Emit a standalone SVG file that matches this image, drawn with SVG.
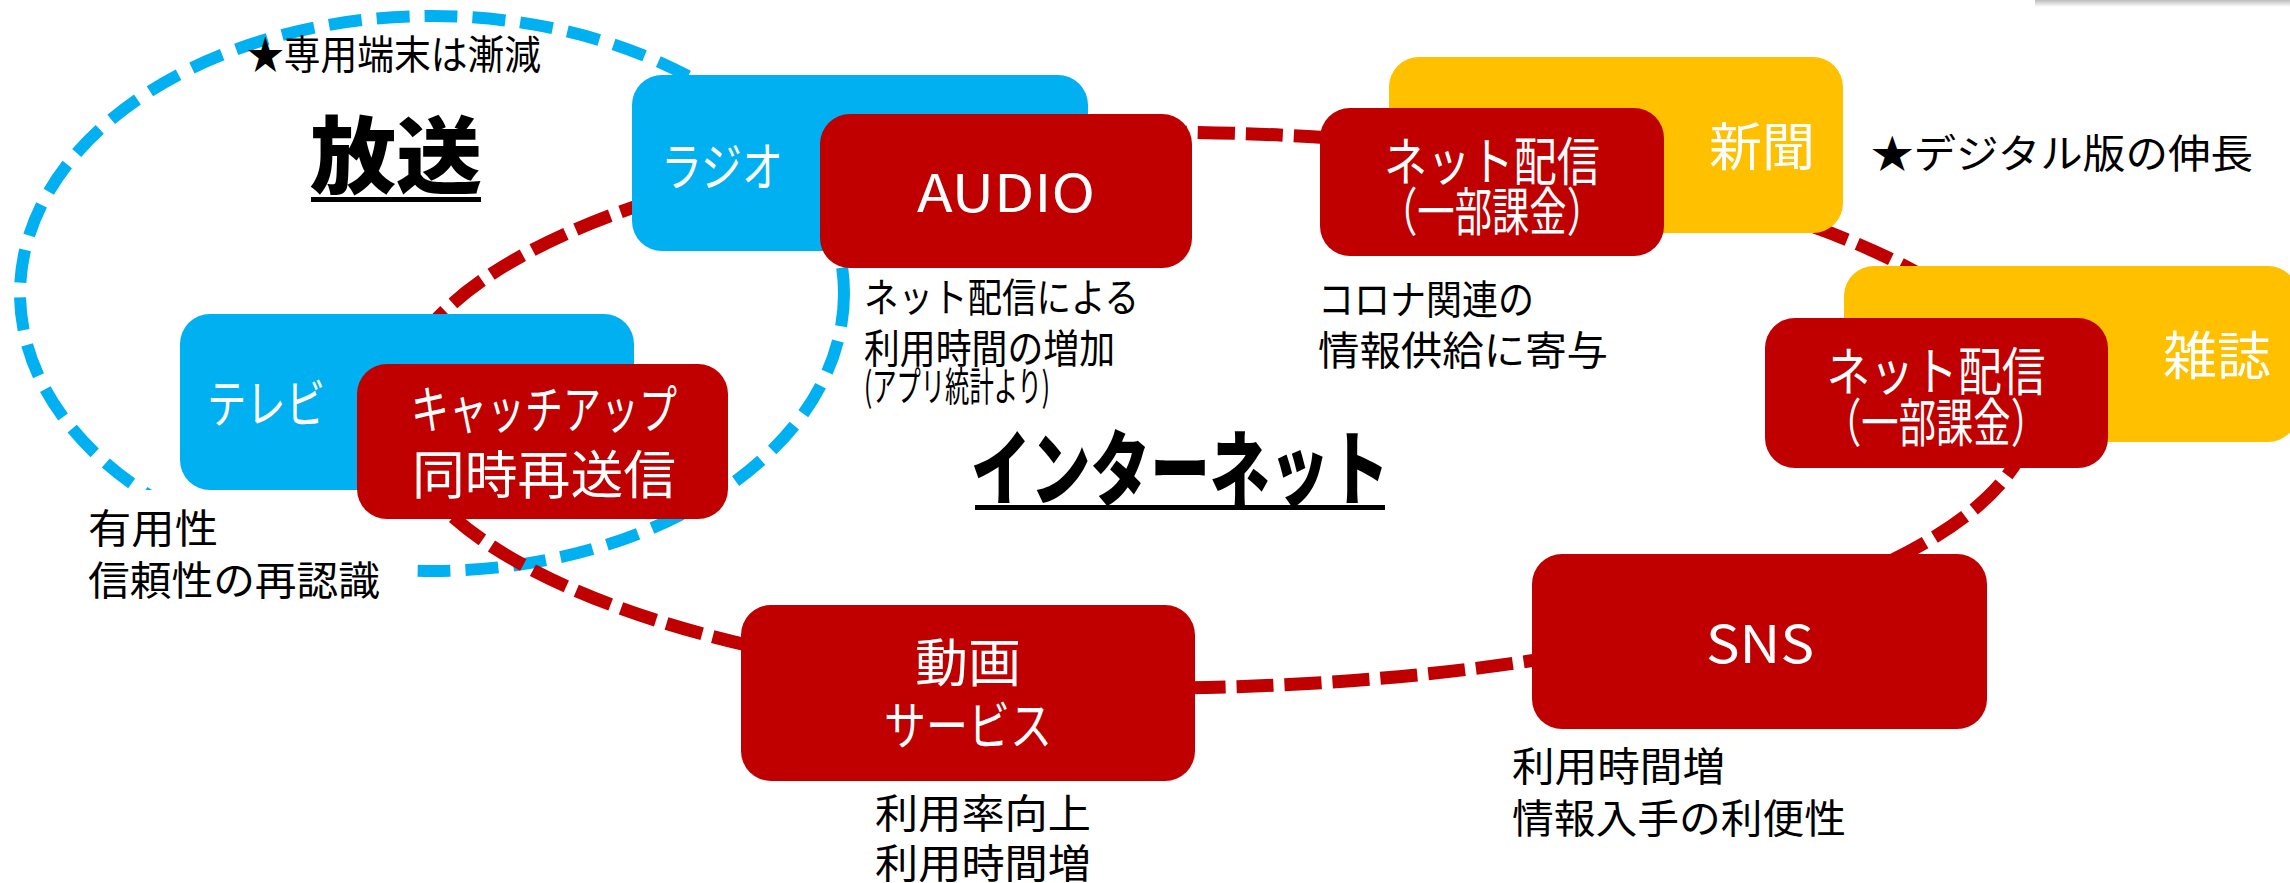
<svg xmlns="http://www.w3.org/2000/svg" width="2290" height="883" viewBox="0 0 2290 883">
<defs>
<style>
.blue{fill:#00B0F0}
.red{fill:#C00000}
.yel{fill:#FFC000}
.lbl{font-family:"Noto Sans CJK JP","Noto Sans",sans-serif;fill:#FFFFFF;text-anchor:middle;font-size:52px}
.ann{font-family:"Noto Sans CJK JP","Noto Sans",sans-serif;fill:#000000;font-size:40px}
.head{font-family:"Noto Sans CJK JP","Noto Sans",sans-serif;fill:#000000;font-weight:900;text-anchor:middle}
.dashBlue{fill:none;stroke:#00B0F0;stroke-width:12;stroke-dasharray:33 15}
.dashRed{fill:none;stroke:#C00000;stroke-width:13;stroke-dasharray:37 11}
</style>
<linearGradient id="shadow" x1="0" y1="0" x2="0" y2="1">
<stop offset="0" stop-color="#BDBDBD"/>
<stop offset="1" stop-color="#FFFFFF"/>
</linearGradient>
</defs>
<rect x="0" y="0" width="2290" height="883" fill="#FFFFFF"/>
<rect x="2035" y="0" width="260" height="7" fill="url(#shadow)"/>

<g id="connectors">
<ellipse class="dashBlue" cx="432" cy="293.5" rx="412" ry="277.5"/>
<path class="dashRed" d="M 1150 132 A 882 278 0 0 1 2032 410 A 882 278 0 0 1 1150 688 A 755 278 0 0 1 395 410 A 755 278 0 0 1 1150 132 Z"/>
</g>

<g id="annotations">
<text class="ann" x="247" y="69" font-size="38" textLength="294" lengthAdjust="spacingAndGlyphs">★専用端末は漸減</text>
<g id="heading-broadcast">
<text class="head" x="396" y="187" font-size="84" textLength="172" lengthAdjust="spacingAndGlyphs">放送</text>
<rect x="311" y="197" width="170" height="5" fill="#000"/>
</g>
<g id="heading-internet">
<text class="head" x="1180" y="499" font-size="82" textLength="418" lengthAdjust="spacingAndGlyphs">インターネット</text>
<rect x="975" y="505" width="410" height="5" fill="#000"/>
</g>
<g id="note-tv">
<rect x="80" y="490" width="325" height="115" fill="#FFFFFF"/>
<text class="ann" x="88" y="543" textLength="130" lengthAdjust="spacingAndGlyphs">有用性</text>
<text class="ann" x="88" y="595" textLength="292" lengthAdjust="spacingAndGlyphs">信頼性の再認識</text>
</g>
<g id="note-audio">
<text class="ann" x="864" y="312" textLength="275" lengthAdjust="spacingAndGlyphs">ネット配信による</text>
<text class="ann" x="864" y="363" textLength="251" lengthAdjust="spacingAndGlyphs">利用時間の増加</text>
<text class="ann" x="864" y="401" font-size="26" textLength="186" lengthAdjust="spacingAndGlyphs">(アプリ統計より)</text>
</g>
<g id="note-news">
<text class="ann" x="1318" y="314" textLength="216" lengthAdjust="spacingAndGlyphs">コロナ関連の</text>
<text class="ann" x="1318" y="365" textLength="290" lengthAdjust="spacingAndGlyphs">情報供給に寄与</text>
</g>
<text class="ann" x="1871" y="168" font-size="45" textLength="382" lengthAdjust="spacingAndGlyphs">★デジタル版の伸長</text>
<g id="note-video">
<text class="ann" x="875" y="828" textLength="216" lengthAdjust="spacingAndGlyphs">利用率向上</text>
<text class="ann" x="875" y="878" textLength="216" lengthAdjust="spacingAndGlyphs">利用時間増</text>
</g>
<g id="note-sns">
<text class="ann" x="1512" y="781" textLength="213" lengthAdjust="spacingAndGlyphs">利用時間増</text>
<text class="ann" x="1512" y="833" textLength="334" lengthAdjust="spacingAndGlyphs">情報入手の利便性</text>
</g>
</g>

<g id="node-radio">
<rect class="blue" x="632" y="75" width="456" height="176" rx="30"/>
<text class="lbl" x="722" y="186" textLength="122" lengthAdjust="spacingAndGlyphs">ラジオ</text>
</g>
<g id="node-audio">
<rect class="red" x="820" y="114" width="372" height="154" rx="30"/>
<text class="lbl" x="1006" y="212" font-size="55" textLength="178" lengthAdjust="spacingAndGlyphs">AUDIO</text>
</g>
<g id="node-tv">
<rect class="blue" x="180" y="314" width="454" height="176" rx="30"/>
<text class="lbl" x="266" y="423" textLength="118" lengthAdjust="spacingAndGlyphs">テレビ</text>
</g>
<g id="node-catchup">
<rect class="red" x="357" y="364" width="371" height="155" rx="30"/>
<text class="lbl" x="544" y="429" textLength="266" lengthAdjust="spacingAndGlyphs">キャッチアップ</text>
<text class="lbl" x="544" y="494" textLength="264" lengthAdjust="spacingAndGlyphs">同時再送信</text>
</g>
<g id="node-newspaper">
<rect class="yel" x="1389" y="57" width="454" height="176" rx="30"/>
<text class="lbl" x="1762" y="166" textLength="106" lengthAdjust="spacingAndGlyphs">新聞</text>
</g>
<g id="node-news-net">
<rect class="red" x="1320" y="108" width="344" height="148" rx="30"/>
<text class="lbl" x="1492" y="181" textLength="216" lengthAdjust="spacingAndGlyphs">ネット配信</text>
<text class="lbl" x="1492" y="231" font-size="38" textLength="224" lengthAdjust="spacingAndGlyphs">（一部課金）</text>
</g>
<g id="node-magazine">
<rect class="yel" x="1844" y="266" width="454" height="176" rx="30"/>
<text class="lbl" x="2217" y="375" textLength="108" lengthAdjust="spacingAndGlyphs">雑誌</text>
</g>
<g id="node-magazine-net">
<rect class="red" x="1765" y="318" width="343" height="150" rx="30"/>
<text class="lbl" x="1936" y="391" textLength="219" lengthAdjust="spacingAndGlyphs">ネット配信</text>
<text class="lbl" x="1936" y="442" font-size="38" textLength="224" lengthAdjust="spacingAndGlyphs">（一部課金）</text>
</g>
<g id="node-sns">
<rect class="red" x="1532" y="554" width="455" height="175" rx="30"/>
<text class="lbl" x="1760" y="663" font-size="55" textLength="108" lengthAdjust="spacingAndGlyphs">SNS</text>
</g>
<g id="node-video">
<rect class="red" x="741" y="605" width="454" height="176" rx="30"/>
<text class="lbl" x="968" y="682" textLength="106" lengthAdjust="spacingAndGlyphs">動画</text>
<text class="lbl" x="968" y="745" textLength="168" lengthAdjust="spacingAndGlyphs">サービス</text>
</g>
</svg>
